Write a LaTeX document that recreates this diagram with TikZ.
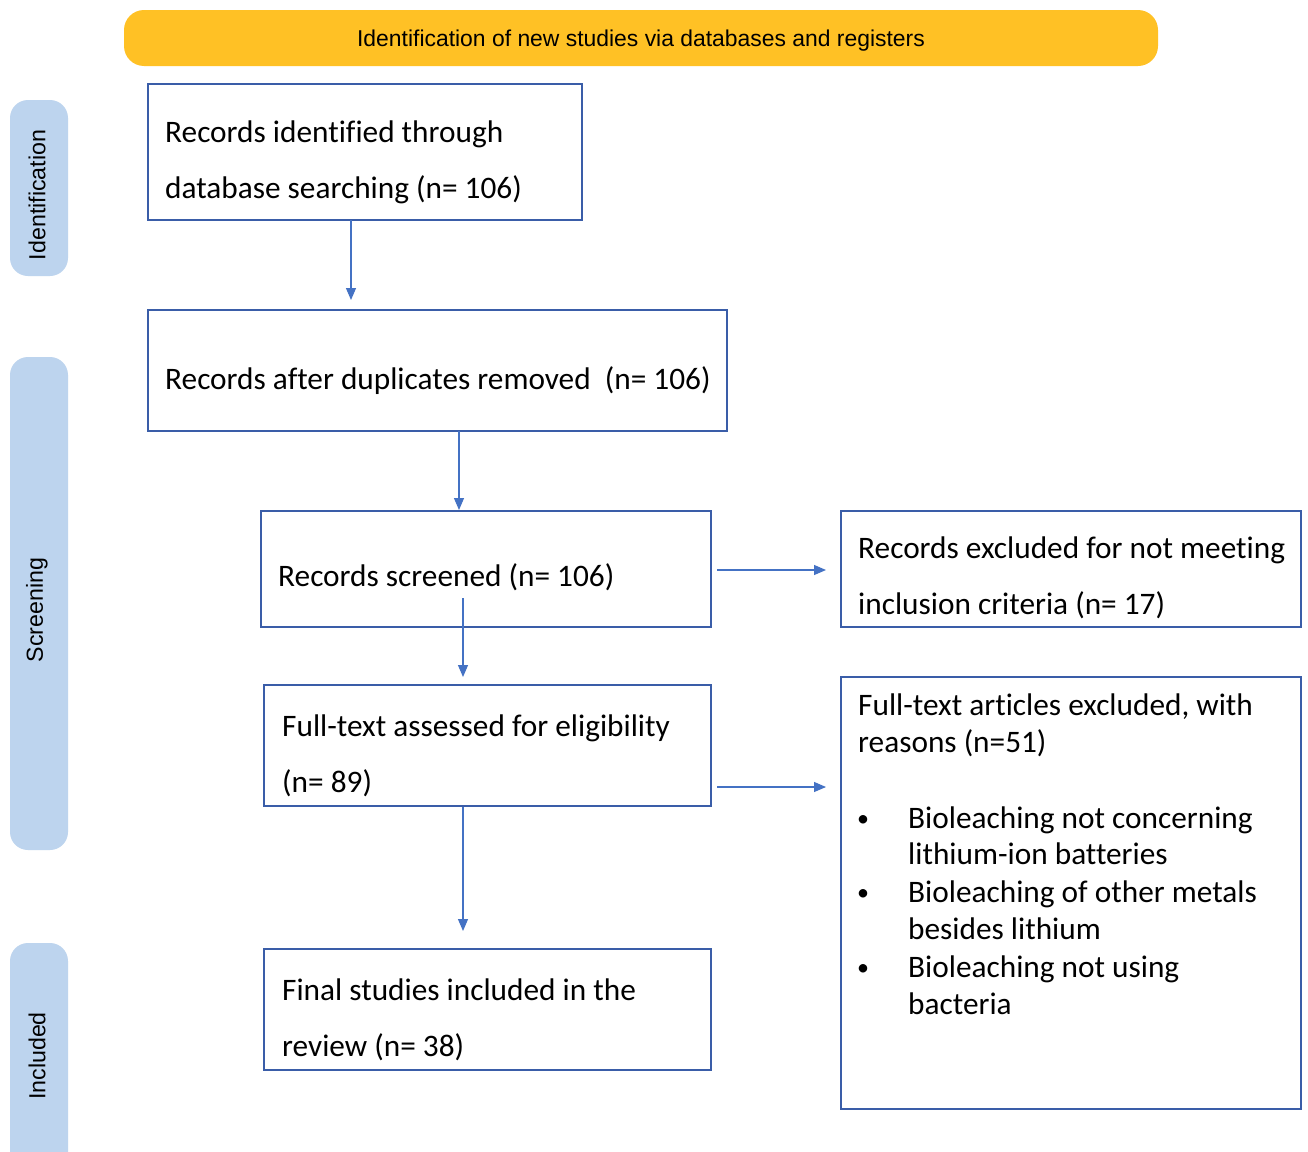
\documentclass[tikz,border=0pt]{standalone}
\usepackage{fontspec}
\setmainfont{Carlito}[Ligatures={NoCommon}]
\newfontfamily\arialfont{Liberation Sans}
\usetikzlibrary{arrows.meta}
\definecolor{hdr}{HTML}{FFC125}
\definecolor{side}{HTML}{BDD4EE}
\definecolor{bord}{HTML}{3A5DA8}
\definecolor{arrc}{HTML}{4472C4}
\tikzset{
  boxrect/.style={draw=bord, line width=2.2pt},
  txt/.style={anchor=base west, inner sep=0pt, font=\fontsize{31.3}{36}\selectfont},
  sidelbl/.style={rotate=90, inner sep=0pt, font=\arialfont\fontsize{23.2}{27}\selectfont},
  arr/.style={draw=arrc, line width=1.2pt, -{Triangle[length=12pt,width=10pt]}},
}
\begin{document}
\begin{tikzpicture}[x=1pt,y=-1pt]
\useasboundingbox (0,0) rectangle (1308,1151);
\clip (0,0) rectangle (1308,1151);
\fill[white] (0,0) rectangle (1308,1151);
% header
\fill[hdr, rounded corners=20pt] (124,10) rectangle (1158,66);
\node[inner sep=0pt, font=\arialfont\fontsize{22.9}{27}\selectfont] (hdrtxt) at (641,40.5) {Identification of new studies via databases and registers};
% side bars
\fill[side, rounded corners=18pt] (10,100) rectangle (68,276);
\node[sidelbl] (lid) at (37,195) {Identification};
\fill[side, rounded corners=18pt] (10,357) rectangle (68,850);
\node[sidelbl] (lsc) at (37,610) {Screening};
\fill[side, rounded corners=18pt] (10,943) rectangle (68,1172);
\node[sidelbl] (lin) at (37,1056) {Included};
% boxes
\draw[boxrect] (148,84) rectangle (582,220);
\node[draw=none, minimum width=434pt, minimum height=136pt, anchor=north west, inner sep=0pt] (b1) at (148,84) {};
\node[txt] (b1a) at (165,142) {Records identified through};
\node[txt] (b1b) at (165,198) {database searching (n= 106)};

\draw[boxrect] (148,310) rectangle (727,431);
\node[draw=none, minimum width=579pt, minimum height=121pt, anchor=north west, inner sep=0pt] (b2) at (148,310) {};
\node[txt] (b2a) at (165,389) {Records after duplicates removed\ \ (n= 106)};

\draw[boxrect] (261,511) rectangle (711,627);
\node[draw=none, minimum width=450pt, minimum height=116pt, anchor=north west, inner sep=0pt] (b3) at (261,511) {};
\node[txt] (b3a) at (278,586) {Records screened (n= 106)};

\draw[boxrect] (841,511) rectangle (1301,627);
\node[draw=none, minimum width=460pt, minimum height=116pt, anchor=north west, inner sep=0pt] (b4) at (841,511) {};
\node[txt] (b4a) at (858,558) {Records excluded for not meeting};
\node[txt] (b4b) at (858,614) {inclusion criteria (n= 17)};

\draw[boxrect] (264,685) rectangle (711,806);
\node[draw=none, minimum width=447pt, minimum height=121pt, anchor=north west, inner sep=0pt] (b5) at (264,685) {};
\node[txt] (b5a) at (282,736) {Full-text assessed for eligibility};
\node[txt] (b5b) at (282,792) {(n= 89)};

\draw[boxrect] (841,677) rectangle (1301,1109);
\node[draw=none, minimum width=460pt, minimum height=432pt, anchor=north west, inner sep=0pt] (b6) at (841,677) {};
\node[txt] (b6a) at (858,715) {Full-text articles excluded, with};
\node[txt] (b6b) at (858,752) {reasons (n=51)};
\node[txt, font=\fontsize{24}{28}\selectfont] (u1) at (857,826) {•};
\node[txt] (b6c) at (908,828) {Bioleaching not concerning};
\node[txt] (b6d) at (908,864) {lithium-ion batteries};
\node[txt, font=\fontsize{24}{28}\selectfont] (u2) at (857,900) {•};
\node[txt] (b6e) at (908,902) {Bioleaching of other metals};
\node[txt] (b6f) at (908,939) {besides lithium};
\node[txt, font=\fontsize{24}{28}\selectfont] (u3) at (857,975) {•};
\node[txt] (b6g) at (908,977) {Bioleaching not using};
\node[txt] (b6h) at (908,1014) {bacteria};

\draw[boxrect] (264,949) rectangle (711,1070);
\node[draw=none, minimum width=447pt, minimum height=121pt, anchor=north west, inner sep=0pt] (b7) at (264,949) {};
\node[txt] (b7a) at (282,1000) {Final studies included in the};
\node[txt] (b7b) at (282,1056) {review (n= 38)};

% connectors
\coordinate (t1) at (351,300);
\draw[arr] (t1 |- b1.south) -- (t1);
\coordinate (t2) at (459,510);
\draw[arr] (t2 |- b2.south) -- (t2);
\coordinate (s3) at (463,598);
\coordinate (t3) at (463,677);
\draw[arr] (s3) -- (t3);
\coordinate (t4) at (463,931);
\draw[arr] ([yshift=-1pt]t4 |- b5.south) -- (t4);
\coordinate (s5) at (717,570);
\coordinate (t5) at (826,570);
\draw[arr] (s5) -- (t5);
\coordinate (s6) at (717,787);
\coordinate (t6) at (826,787);
\draw[arr] (s6) -- (t6);
\end{tikzpicture}
\end{document}
